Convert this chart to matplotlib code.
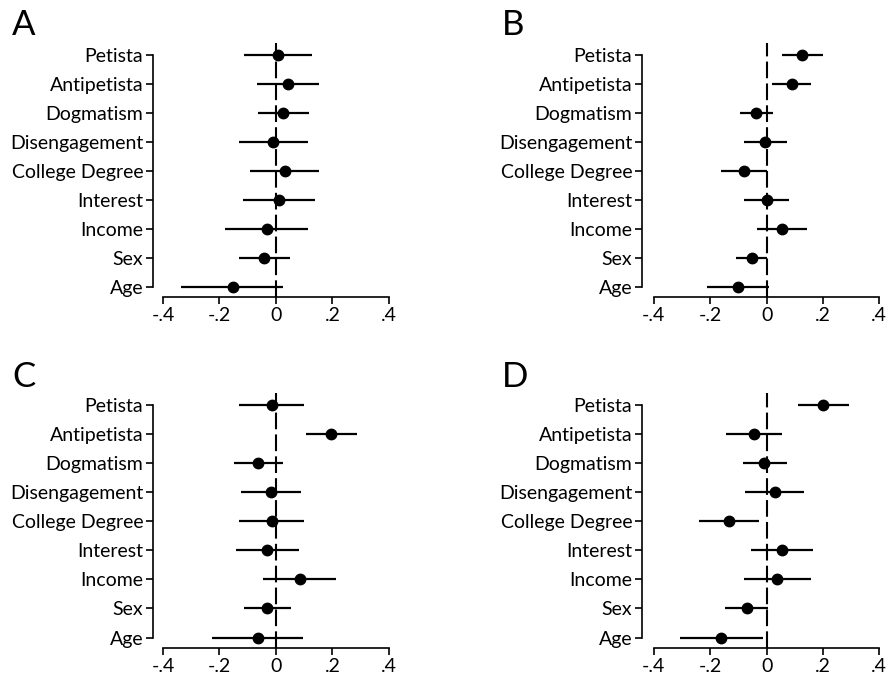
import numpy as np
import matplotlib.pyplot as plt

plt.rcParams['font.family'] = ['Lato', 'DejaVu Sans']

labels = ['Petista', 'Antipetista', 'Dogmatism', 'Disengagement', 'College Degree',
          'Interest', 'Income', 'Sex', 'Age']
xtick_vals = [-0.4, -0.2, 0, 0.2, 0.4]
xtick_labels = ['-.4', '-.2', '0', '.2', '.4']

# point estimates and confidence bounds, in label order (top to bottom)
a_est = [0.006, 0.044, 0.026, -0.011, 0.032, 0.012, -0.033, -0.042, -0.153]
a_lo = [-0.114, -0.067, -0.065, -0.130, -0.091, -0.118, -0.179, -0.132, -0.335]
a_hi = [0.126, 0.153, 0.116, 0.112, 0.153, 0.139, 0.112, 0.050, 0.026]

b_est = [0.127, 0.089, -0.036, -0.004, -0.079, 0.000, 0.056, -0.053, -0.101]
b_lo = [0.053, 0.021, -0.095, -0.079, -0.160, -0.079, -0.033, -0.110, -0.211]
b_hi = [0.199, 0.157, 0.024, 0.072, 0.000, 0.080, 0.144, 0.000, 0.008]

c_est = [-0.014, 0.195, -0.063, -0.018, -0.014, -0.030, 0.084, -0.030, -0.065]
c_lo = [-0.130, 0.106, -0.147, -0.124, -0.130, -0.142, -0.045, -0.112, -0.227]
c_hi = [0.100, 0.286, 0.024, 0.088, 0.100, 0.083, 0.212, 0.053, 0.094]

d_est = [0.202, -0.045, -0.008, 0.030, -0.134, 0.056, 0.038, -0.069, -0.161]
d_lo = [0.112, -0.144, -0.085, -0.075, -0.240, -0.056, -0.080, -0.147, -0.308]
d_hi = [0.293, 0.053, 0.071, 0.133, -0.027, 0.166, 0.157, 0.006, -0.014]

panels = [
    ('A', a_est, a_lo, a_hi, [153/888, 1-297/679, (389-153)/888, (297-43)/679], -0.435),
    ('B', b_est, b_lo, b_hi, [642/888, 1-297/679, (879.3-642)/888, (297-43)/679], -0.442),
    ('C', c_est, c_lo, c_hi, [153/888, 1-648/679, (389-153)/888, (648-393)/679], -0.435),
    ('D', d_est, d_lo, d_hi, [642/888, 1-648/679, (879.3-642)/888, (648-393)/679], -0.442),
]
letter_pos = {'A': (12/888, 1-9/679), 'B': (502/888, 1-9/679),
              'C': (12/888, 1-361/679), 'D': (502/888, 1-361/679)}

fig = plt.figure(figsize=(8.88, 6.79), dpi=100)

ypos = np.arange(len(labels), 0, -1)

for name, est, lo, hi, rect, xleft in panels:
    ax = fig.add_axes(rect)
    ax.axvline(0, color='black', lw=1.5, linestyle=(0, (8, 2.5)), zorder=1)
    ax.hlines(ypos, lo, hi, color='black', lw=1.6, zorder=2)
    ax.plot(est, ypos, 'o', color='black', markersize=7.5, zorder=3)
    ax.set_xlim(xleft, 0.4)
    ax.set_ylim(0.64, 9.4)
    ax.set_yticks(ypos)
    ax.set_yticklabels(labels)
    ax.set_xticks(xtick_vals)
    ax.set_xticklabels(xtick_labels)
    for s in ['top', 'right']:
        ax.spines[s].set_visible(False)
    ax.spines['left'].set_bounds(1, 9)
    ax.spines['bottom'].set_bounds(-0.4, 0.4)
    ax.spines['left'].set_linewidth(1.2)
    ax.spines['bottom'].set_linewidth(1.2)
    ax.tick_params(axis='both', labelsize=14, length=5, width=1.2, direction='out', pad=2)
    fig.text(letter_pos[name][0], letter_pos[name][1], name, fontsize=25,
             ha='left', va='top')

fig.savefig('out.png', dpi=100)
